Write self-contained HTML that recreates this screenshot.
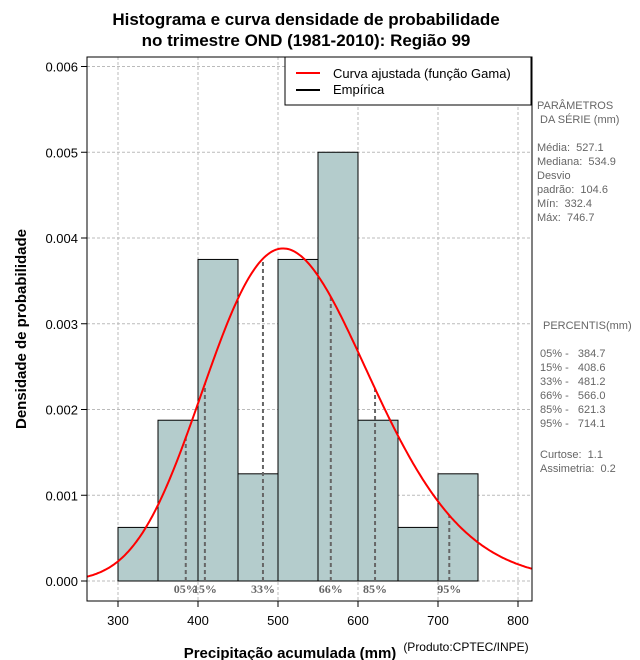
<!DOCTYPE html>
<html><head><meta charset="utf-8"><style>
body{margin:0;background:#fff;}
svg{display:block;font-family:"Liberation Sans",sans-serif;}
text{white-space:pre;}
</style></head><body>
<svg id="c" width="640" height="660" xmlns="http://www.w3.org/2000/svg">
<text x="306" y="25" text-anchor="middle" font-size="17" font-weight="bold">Histograma e curva densidade de probabilidade</text>
<text x="306" y="46" text-anchor="middle" font-size="17" font-weight="bold">no trimestre OND (1981-2010): Região 99</text>
<g id="grid"></g><g id="bars"></g><g id="pct"></g><g id="curve"></g><g id="axes"></g>
<text x="290" y="658" text-anchor="middle" font-size="15" font-weight="bold">Precipitação acumulada (mm)</text>
<text x="466" y="651" text-anchor="middle" font-size="12">(Produto:CPTEC/INPE)</text>
<text transform="translate(26,329) rotate(-90)" text-anchor="middle" font-size="15" font-weight="bold">Densidade de probabilidade</text>
<g>
<rect x="285" y="57" width="246" height="48" fill="#fff" stroke="#000"/>
<line x1="296" y1="73" x2="320" y2="73" stroke="red" stroke-width="2"/>
<text x="333" y="78" font-size="13">Curva ajustada (função Gama)</text>
<line x1="296" y1="90" x2="320" y2="90" stroke="#000" stroke-width="2"/>
<text x="333" y="94" font-size="13">Empírica</text>
</g>
<g font-size="11" fill="#666">
<text x="537" y="109">PARÂMETROS</text><text x="540" y="123">DA SÉRIE (mm)</text>
<text x="537" y="151">Média:  527.1</text><text x="537" y="165">Mediana:  534.9</text>
<text x="537" y="179">Desvio</text><text x="537" y="193">padrão:  104.6</text>
<text x="537" y="207">Mín:  332.4</text><text x="537" y="221">Máx:  746.7</text>
<text x="543" y="329">PERCENTIS(mm)</text>
<text x="540" y="357">05% -   384.7</text><text x="540" y="371">15% -   408.6</text>
<text x="540" y="385">33% -   481.2</text><text x="540" y="399">66% -   566.0</text>
<text x="540" y="413">85% -   621.3</text><text x="540" y="427">95% -   714.1</text>
<text x="540" y="458">Curtose:  1.1</text><text x="540" y="472">Assimetria:  0.2</text>
</g>
</svg>
<script>
const binStarts=[300,350,400,450,500,550,600,650,700];
const binDensity=[0.000625,0.001875,0.00375,0.00125,0.00375,0.005,0.001875,0.000625,0.00125];
const binWidth=50;
const pctLabels=["05%","15%","33%","66%","85%","95%"];
const pctValues=[384.7,408.6,481.2,566.0,621.3,714.1];
const xTicks=[300,400,500,600,700,800];
const yTicks=[0,0.001,0.002,0.003,0.004,0.005,0.006];
const yTickLabels=["0.000","0.001","0.002","0.003","0.004","0.005","0.006"];
const fitMean=[527.1];
const fitSd=[104.6];
const NS="http://www.w3.org/2000/svg";
const L=87,R=532,T=57,B=601;
const X=v=>118+(v-300)*0.8;
const Y=v=>581-v*85750;
function mk(tag,attrs,parent){const e=document.createElementNS(NS,tag);for(const k in attrs)e.setAttribute(k,attrs[k]);document.getElementById(parent).appendChild(e);return e;}
function lg(x){const c=[76.18009172947146,-86.50532032941677,24.01409824083091,-1.231739572450155,0.1208650973866179e-2,-0.5395239384953e-5];let y=x,t=x+5.5;t-=(x+0.5)*Math.log(t);let ser=1.000000000190015;for(let j=0;j<6;j++){y+=1;ser+=c[j]/y;}return -t+Math.log(2.5066282746310005*ser/x);}
const k=(fitMean[0]/fitSd[0])**2, th=fitSd[0]**2/fitMean[0];
const dens=x=>x<=0?0:Math.exp((k-1)*Math.log(x)-x/th-lg(k)-k*Math.log(th));
xTicks.forEach(v=>{const l=mk('line',{x1:X(v),x2:X(v),y1:T,y2:B,stroke:'#bbb','stroke-dasharray':'3,2'},'grid');});
yTicks.forEach(v=>{const l=mk('line',{x1:L,x2:R,y1:Y(v),y2:Y(v),stroke:'#bbb','stroke-dasharray':'3,2'},'grid');});
binStarts.forEach((s,i)=>{const r=mk('rect',{x:X(s),y:Y(binDensity[i]),width:X(s+binWidth)-X(s),height:Y(0)-Y(binDensity[i]),fill:'#b4cccc',stroke:'#000','stroke-width':1},'bars');});
pctValues.forEach((v,i)=>{const l=mk('line',{x1:X(v),x2:X(v),y1:Y(0),y2:Y(dens(v)),stroke:'#666','stroke-width':2,'stroke-dasharray':'4,3'},'pct');
const t=mk('text',{x:X(v),y:593,'text-anchor':'middle','font-size':12,'font-weight':'bold',fill:'#666','font-family':'Liberation Serif, serif'},'pct');t.textContent=pctLabels[i];});
let d='';for(let x=261;x<=818;x+=2){d+=(d?'L':'M')+X(x).toFixed(1)+','+Y(dens(x)).toFixed(1);}
const p=mk('path',{d:d,fill:'none',stroke:'red','stroke-width':2},'curve');
const fr=mk('rect',{x:L,y:T,width:R-L,height:B-T,fill:'none',stroke:'#000'},'axes');
xTicks.forEach(v=>{mk('line',{x1:X(v),x2:X(v),y1:B,y2:B+6,stroke:'#000'},'axes');const t=mk('text',{x:X(v),y:B+24,'text-anchor':'middle','font-size':13},'axes');t.textContent=v;});
yTicks.forEach((v,i)=>{mk('line',{x1:L-6,x2:L,y1:Y(v),y2:Y(v),stroke:'#000'},'axes');const t=mk('text',{x:L-9,y:Y(v)+5,'text-anchor':'end','font-size':13},'axes');t.textContent=yTickLabels[i];});
</script>
</body></html>
